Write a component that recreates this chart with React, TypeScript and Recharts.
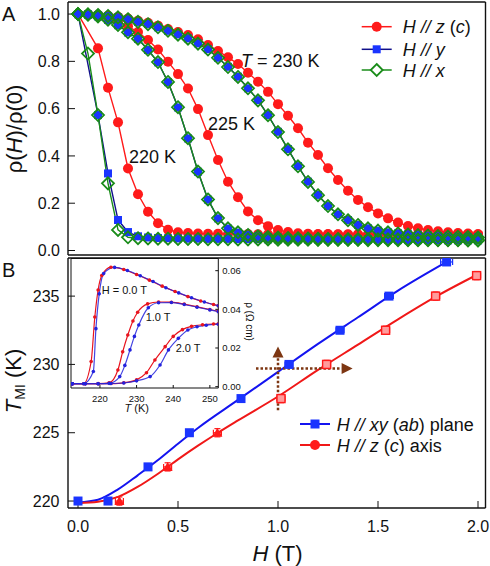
import React from 'react';
import { LineChart, Line, XAxis, YAxis, ComposedChart, Scatter, ErrorBar, ReferenceLine, ReferenceDot } from 'recharts';

const FONT = '"Liberation Sans", Arial, Helvetica, sans-serif';

// ---------- Panel A : rho(H)/rho(0) vs H ----------
const fieldA = [0, 0.05, 0.1, 0.15, 0.2, 0.25, 0.3, 0.35, 0.4, 0.45, 0.5, 0.55, 0.6, 0.65, 0.7, 0.75, 0.8, 0.85, 0.9, 0.95, 1.0, 1.05, 1.1, 1.15, 1.2, 1.25, 1.3, 1.35, 1.4, 1.45, 1.5, 1.55, 1.6, 1.65, 1.7, 1.75, 1.8, 1.85, 1.9, 1.95, 2.0];

const z220 = [1.0, null, 0.855, 0.688, 0.542, 0.347, 0.238, 0.164, 0.115, 0.088, 0.077, 0.074, 0.072, 0.071, 0.071, 0.070, 0.070, 0.070, 0.069, 0.069, 0.069, 0.069, 0.068, 0.068, 0.068, 0.068, 0.068, 0.067, 0.067, 0.067, 0.067, 0.067, 0.067, 0.066, 0.066, 0.066, 0.066, 0.066, 0.066, 0.066, 0.066];
const y220 = [1.0, null, 0.573, 0.326, 0.129, 0.078, 0.060, 0.055, 0.053, 0.052, 0.051, 0.050, 0.050, 0.049, 0.049, 0.049, 0.048, 0.048, 0.048, 0.047, 0.047, 0.047, 0.047, 0.046, 0.046, 0.046, 0.046, 0.045, 0.045, 0.045, 0.045, 0.045, 0.044, 0.044, 0.044, 0.044, 0.044, 0.043, 0.043, 0.043, 0.043];
const x220 = [1.0, 0.833, 0.573, 0.284, 0.087, 0.056, 0.052, 0.051, 0.050, 0.050, 0.049, 0.049, 0.049, 0.048, 0.048, 0.048, 0.047, 0.047, 0.047, 0.047, 0.046, 0.046, 0.046, 0.046, 0.045, 0.045, 0.045, 0.045, 0.045, 0.044, 0.044, 0.044, 0.044, 0.044, 0.043, 0.043, 0.043, 0.043, 0.043, 0.042, 0.042];

const z225 = [1.0, 0.998, 0.992, 0.982, 0.968, 0.948, 0.924, 0.890, 0.850, 0.798, 0.746, 0.685, 0.598, 0.488, 0.383, 0.291, 0.225, 0.165, 0.128, 0.103, 0.087, 0.078, 0.073, 0.071, 0.070, 0.070, 0.069, 0.069, 0.069, 0.068, 0.068, 0.068, 0.068, 0.067, 0.067, 0.067, 0.067, 0.067, 0.066, 0.066, 0.066];
const y225 = [1.0, 0.997, 0.990, 0.975, 0.953, 0.922, 0.895, 0.848, 0.796, 0.712, 0.605, 0.474, 0.333, 0.215, 0.136, 0.093, 0.076, 0.066, 0.060, 0.057, 0.055, 0.053, 0.052, 0.051, 0.050, 0.050, 0.049, 0.049, 0.048, 0.048, 0.048, 0.047, 0.047, 0.047, 0.046, 0.046, 0.046, 0.046, 0.045, 0.045, 0.045];
const x225 = [1.0, 0.997, 0.990, 0.976, 0.954, 0.923, 0.896, 0.849, 0.797, 0.713, 0.606, 0.475, 0.334, 0.216, 0.137, 0.094, 0.077, 0.066, 0.060, 0.057, 0.055, 0.053, 0.052, 0.051, 0.050, 0.049, 0.049, 0.048, 0.048, 0.048, 0.047, 0.047, 0.047, 0.046, 0.046, 0.046, 0.045, 0.045, 0.045, 0.045, 0.044];

const z230 = [1.0, 0.999, 0.997, 0.993, 0.988, 0.981, 0.972, 0.963, 0.951, 0.937, 0.924, 0.911, 0.893, 0.869, 0.844, 0.817, 0.789, 0.752, 0.714, 0.671, 0.619, 0.570, 0.517, 0.456, 0.404, 0.348, 0.298, 0.253, 0.214, 0.183, 0.157, 0.136, 0.118, 0.104, 0.094, 0.087, 0.081, 0.077, 0.074, 0.072, 0.070];
const y230 = [1.0, 0.999, 0.996, 0.992, 0.986, 0.978, 0.967, 0.958, 0.944, 0.929, 0.914, 0.897, 0.876, 0.851, 0.815, 0.777, 0.735, 0.686, 0.636, 0.573, 0.502, 0.429, 0.357, 0.291, 0.235, 0.188, 0.153, 0.129, 0.108, 0.094, 0.084, 0.077, 0.073, 0.069, 0.066, 0.063, 0.061, 0.059, 0.058, 0.057, 0.056];
const x230 = [1.0, 0.999, 0.996, 0.992, 0.986, 0.978, 0.967, 0.957, 0.944, 0.929, 0.913, 0.896, 0.875, 0.850, 0.815, 0.776, 0.734, 0.686, 0.635, 0.572, 0.501, 0.428, 0.356, 0.290, 0.234, 0.188, 0.153, 0.128, 0.108, 0.094, 0.084, 0.077, 0.072, 0.068, 0.065, 0.063, 0.061, 0.059, 0.058, 0.057, 0.055];

const tempLabelsA = ['220 K', '225 K', '230 K'];
const legendA = ['z', 'y', 'x'];

const ticksH = [0, 0.5, 1.0, 1.5, 2.0];
const ticksHminor = [0.25, 0.75, 1.25, 1.75];
const ticksRho = [0, 0.2, 0.4, 0.6, 0.8, 1.0];
const ticksRhoMinor = [0.1, 0.3, 0.5, 0.7, 0.9];

// ---------- Panel B : T_MI vs H ----------
const measXYh = [0, 0.15, 0.35, 0.557, 0.815, 1.055, 1.31, 1.555, 1.843];
const measXYt = [220, 220, 222.5, 225, 227.5, 230, 232.5, 235, 237.5];
const measXYeh = [0.01, 0.01, 0.012, 0.015, 0.015, 0.02, 0.02, 0.022, 0.03];
const measXYet = [0.2, 0.2, 0.2, 0.2, 0.2, 0.2, 0.2, 0.2, 0.2];

const measZh = [0.207, 0.448, 0.697, 1.015, 1.243, 1.538, 1.788, 1.993];
const measZt = [220, 222.5, 225, 227.5, 230, 232.5, 235, 236.5];
const measZeh = [0.02, 0.02, 0.02, 0.02, 0.02, 0.02, 0.02, 0.02];
const measZet = [0.3, 0.3, 0.3, 0.3, 0.3, 0.3, 0.3, 0.3];

const fitXYh = [0, 0.1, 0.2, 0.3, 0.4, 0.5, 0.6, 0.8, 1.0, 1.2, 1.4, 1.6, 1.843];
const fitXYt = [219.9, 220.1, 220.85, 221.9, 223.0, 224.2, 225.35, 227.4, 229.45, 231.5, 233.45, 235.4, 237.5];
const fitZh = [0, 0.1, 0.2, 0.3, 0.4, 0.5, 0.6, 0.7, 0.8, 1.0, 1.2, 1.4, 1.6, 1.8, 2.0];
const fitZt = [219.85, 219.95, 220.3, 221.05, 222.0, 223.05, 224.05, 225.0, 225.9, 227.65, 229.6, 231.45, 233.3, 235.05, 236.6];

const ticksT = [220, 225, 230, 235];
const ticksTminor = [221, 222, 223, 224, 226, 227, 228, 229, 231, 232, 233, 234, 236, 237];

// dotted arrows (H, T in data units)
const arrowUp = { h: 1.0, t0: 226.65, t1: 230.5 };
const arrowRight = { t: 229.7, h0: 0.89, h1: 1.318 };

// ---------- Inset : rho (Ohm cm) vs T ----------
const t0z = [212.5, 215.5, 217.6, 218.6, 219.5, 220.5, 223, 226.5, 230, 233.5, 237, 240.5, 244, 247.5, 251, 252.3];
const r0z = [0.0015, 0.0015, 0.013, 0.036, 0.05, 0.0575, 0.0618, 0.0606, 0.058, 0.0551, 0.052, 0.0492, 0.0466, 0.0443, 0.0425, 0.0419];
const t0xy = [212.5, 215.5, 218.2, 218.9, 219.8, 221, 224, 227.5, 231, 234.5, 238, 241.5, 245, 248.5, 252.3];
const r0xy = [0.0015, 0.0015, 0.0078, 0.03, 0.048, 0.0585, 0.0617, 0.0601, 0.0574, 0.0544, 0.0512, 0.0485, 0.046, 0.0438, 0.0418];
const t1z = [212.5, 216, 219.5, 222.5, 224.9, 226.2, 227.6, 229, 230.3, 233, 236, 239.5, 243, 246.5, 250, 252.3];
const r1z = [0.0015, 0.0015, 0.0016, 0.002, 0.0086, 0.018, 0.0267, 0.034, 0.0385, 0.0428, 0.0438, 0.0437, 0.0427, 0.0413, 0.0399, 0.039];
const t1xy = [212.5, 216, 219.5, 222.5, 225.4, 226.8, 228.2, 229.4, 230.6, 233.2, 236, 239.5, 243, 246.5, 250, 252.3];
const r1xy = [0.0015, 0.0015, 0.0015, 0.0017, 0.0052, 0.011, 0.019, 0.026, 0.0319, 0.0408, 0.0434, 0.0435, 0.0425, 0.0411, 0.0397, 0.0388];
const t2z = [212.5, 216, 219.5, 223, 226.5, 230, 232.7, 235, 237.8, 240, 242.5, 245, 248, 251, 252.3];
const r2z = [0.0015, 0.0015, 0.0015, 0.0016, 0.002, 0.0035, 0.0072, 0.0138, 0.0207, 0.026, 0.0295, 0.0312, 0.032, 0.0324, 0.0325];
const t2xy = [212.5, 216, 219.5, 223, 226.5, 230, 233.7, 236.4, 238.7, 241.4, 244, 246.5, 249, 252.3];
const r2xy = [0.0015, 0.0015, 0.0015, 0.0016, 0.0019, 0.003, 0.0052, 0.0112, 0.019, 0.025, 0.0293, 0.031, 0.0318, 0.0323];

const insetLabels = ['H = 0.0 T', '1.0 T', '2.0 T'];
const ticksInsetT = [220, 230, 240, 250];
const ticksInsetTminor = [215, 225, 235, 245];
const ticksInsetRho = [0, 0.02, 0.04, 0.06];
const ticksInsetRhoMinor = [0.01, 0.03, 0.05];
const ticksInsetRhoAll = [0, 0.01, 0.02, 0.03, 0.04, 0.05, 0.06];

// ---------- build tables ----------
const rowsA = fieldA.map((h, i) => ({
  h,
  z220: z220[i], y220: y220[i], x220: x220[i],
  z225: z225[i], y225: y225[i], x225: x225[i],
  z230: z230[i], y230: y230[i], x230: x230[i],
}));
const pts = (hs: number[], ts: number[]) => hs.map((h, i) => ({ h, t: ts[i] }));
const measXY = measXYh.map((h, i) => ({ h, t: measXYt[i], eh: measXYeh[i], et: measXYet[i] }));
const measZ = measZh.map((h, i) => ({ h, t: measZt[i], eh: measZeh[i], et: measZet[i] }));
const fitXY = pts(fitXYh, fitXYt);
const fitZ = pts(fitZh, fitZt);
const ins = (ts: number[], rs: number[]) => ts.map((T, i) => ({ T, r: rs[i] }));

// ---------- colors ----------
const RED = '#ff1a1a';
const BLUE_MARK = '#1a34ff';
const NAVY = '#10108a';
const GREEN = '#1a8c1a';
const BROWN = '#7d3612';
const INK = '#111';

const ok = (p: any) => p && Number.isFinite(p.cx) && Number.isFinite(p.cy);
const redCircle = (p: any) => ok(p) ? <circle key={`rc${p.index}`} cx={p.cx} cy={p.cy} r={5} fill={RED} /> : <g key={`rc${p.index}`} />;
const blueSquare = (p: any) => ok(p) ? <rect key={`bs${p.index}`} x={p.cx - 4} y={p.cy - 4} width={8} height={8} fill={BLUE_MARK} /> : <g key={`bs${p.index}`} />;
const greenDiamond = (p: any) => ok(p) ? (
  <polygon key={`gd${p.index}`} points={`${p.cx},${p.cy - 6} ${p.cx + 6},${p.cy} ${p.cx},${p.cy + 6} ${p.cx - 6},${p.cy}`} fill="none" stroke={GREEN} strokeWidth={1.8} />
) : <g key={`gd${p.index}`} />;

const tickFont = { fontSize: 16, fill: INK, fontFamily: FONT };
const common = { type: 'number' as const, allowDataOverflow: true, interval: 0 as const, stroke: INK };

function PanelA() {
  const dom: [number, number] = [-0.05, 2.0375];
  const ydom: [number, number] = [-0.019, 1.051];
  return (
    <LineChart width={490} height={260} data={rowsA} margin={{ top: 0, right: 2.5, bottom: 3, left: 66 }}>
      <XAxis {...common} dataKey="h" domain={dom} ticks={ticksH} tickSize={-7} tick={false} height={1} axisLine={{ strokeWidth: 1.4 }} />
      <XAxis {...common} xAxisId="bm" domain={dom} ticks={ticksHminor} tickSize={-5} tick={false} height={1} axisLine={false} />
      <XAxis {...common} xAxisId="t" orientation="top" domain={dom} ticks={ticksH} tickSize={-7} tick={false} height={1} axisLine={{ strokeWidth: 1.4 }} />
      <XAxis {...common} xAxisId="tm" orientation="top" domain={dom} ticks={ticksHminor} tickSize={-5} tick={false} height={1} axisLine={false} />
      <YAxis {...common} domain={ydom} ticks={ticksRho} tickSize={-7} tickMargin={15} width={1} tick={tickFont} tickFormatter={(v: number) => v.toFixed(1)} axisLine={{ strokeWidth: 1.4 }} />
      <YAxis {...common} yAxisId="lm" domain={ydom} ticks={ticksRhoMinor} tickSize={-5} tick={false} width={1} axisLine={false} />
      <YAxis {...common} yAxisId="r" orientation="right" domain={ydom} ticks={ticksRho} tickSize={-7} tick={false} width={1} axisLine={{ strokeWidth: 1.4 }} />
      <YAxis {...common} yAxisId="rm" orientation="right" domain={ydom} ticks={ticksRhoMinor} tickSize={-5} tick={false} width={1} axisLine={false} />

      <Line dataKey="z230" stroke={RED} strokeWidth={1.4} dot={redCircle} activeDot={false} connectNulls isAnimationActive={false} />
      <Line dataKey="z225" stroke={RED} strokeWidth={1.4} dot={redCircle} activeDot={false} connectNulls isAnimationActive={false} />
      <Line dataKey="z220" stroke={RED} strokeWidth={1.4} dot={redCircle} activeDot={false} connectNulls isAnimationActive={false} />
      <Line dataKey="y230" stroke={NAVY} strokeWidth={1.4} dot={blueSquare} activeDot={false} connectNulls isAnimationActive={false} />
      <Line dataKey="y225" stroke={NAVY} strokeWidth={1.4} dot={blueSquare} activeDot={false} connectNulls isAnimationActive={false} />
      <Line dataKey="y220" stroke={NAVY} strokeWidth={1.4} dot={blueSquare} activeDot={false} connectNulls isAnimationActive={false} />
      <Line dataKey="x230" stroke={GREEN} strokeWidth={1.4} dot={greenDiamond} activeDot={false} connectNulls isAnimationActive={false} />
      <Line dataKey="x225" stroke={GREEN} strokeWidth={1.4} dot={greenDiamond} activeDot={false} connectNulls isAnimationActive={false} />
      <Line dataKey="x220" stroke={GREEN} strokeWidth={1.4} dot={greenDiamond} activeDot={false} connectNulls isAnimationActive={false} />
    </LineChart>
  );
}

const blueMark = (p: any) => <rect x={p.cx - 4.5} y={p.cy - 4.5} width={9} height={9} fill={BLUE_MARK} />;
const redMark = (p: any) => {
  const h = p.payload ? p.payload.h : 0;
  if (h < 0.8) {
    return <polygon points={`${p.cx},${p.cy - 5} ${p.cx + 5},${p.cy + 4} ${p.cx - 5},${p.cy + 4}`} fill={RED} />;
  }
  return <rect x={p.cx - 4} y={p.cy - 4} width={8} height={8} fill="#ff9c9c" stroke={RED} strokeWidth={1.4} />;
};
const arrowHeadUp = (p: any) => <polygon points={`${p.cx - 5.5},${p.cy} ${p.cx + 5.5},${p.cy} ${p.cx},${p.cy - 11}`} fill={BROWN} />;
const arrowHeadRight = (p: any) => <polygon points={`${p.cx},${p.cy - 5.5} ${p.cx},${p.cy + 5.5} ${p.cx + 11},${p.cy}`} fill={BROWN} />;

function PanelB() {
  const dom: [number, number] = [-0.05, 2.0375];
  const ydom: [number, number] = [219.49, 237.79];
  return (
    <ComposedChart width={490} height={566} margin={{ top: 257, right: 2.5, bottom: 56, left: 66 }}>
      <XAxis {...common} dataKey="h" domain={dom} ticks={ticksH} tickSize={-7} tickMargin={20} height={1} tick={tickFont} tickFormatter={(v: number) => v.toFixed(1)} axisLine={{ strokeWidth: 1.4 }} />
      <XAxis {...common} xAxisId="bm" domain={dom} ticks={ticksHminor} tickSize={-5} tick={false} height={1} axisLine={false} />
      <XAxis {...common} xAxisId="t" orientation="top" domain={dom} ticks={ticksH} tickSize={0} tickLine={false} tick={false} height={1} axisLine={{ strokeWidth: 1.4 }} />
      <YAxis {...common} dataKey="t" domain={ydom} ticks={ticksT} tickSize={-7} tickMargin={15.5} width={1} tick={tickFont} axisLine={{ strokeWidth: 1.4 }} />
      <YAxis {...common} yAxisId="lm" domain={ydom} ticks={ticksTminor} tickSize={-5} tick={false} width={1} axisLine={false} />
      <YAxis {...common} yAxisId="r" orientation="right" domain={ydom} ticks={ticksT} tickSize={-7} tick={false} width={1} axisLine={{ strokeWidth: 1.4 }} />
      <YAxis {...common} yAxisId="rm" orientation="right" domain={ydom} ticks={ticksTminor} tickSize={-5} tick={false} width={1} axisLine={false} />

      <Line data={fitXY} dataKey="t" type="monotone" stroke="#1414f0" strokeWidth={2} dot={false} activeDot={false} isAnimationActive={false} />
      <Line data={fitZ} dataKey="t" type="monotone" stroke="#f01818" strokeWidth={2} dot={false} activeDot={false} isAnimationActive={false} />

      <ReferenceLine segment={[{ x: arrowUp.h, y: arrowUp.t0 }, { x: arrowUp.h, y: arrowUp.t1 }]} stroke={BROWN} strokeWidth={2.5} strokeDasharray="2.5 2" />
      <ReferenceLine segment={[{ x: arrowRight.h0, y: arrowRight.t }, { x: arrowRight.h1, y: arrowRight.t }]} stroke={BROWN} strokeWidth={2.5} strokeDasharray="2.5 2" />
      <ReferenceDot x={arrowUp.h} y={arrowUp.t1} r={5} shape={arrowHeadUp} />
      <ReferenceDot x={arrowRight.h1} y={arrowRight.t} r={5} shape={arrowHeadRight} />

      <Scatter data={measXY} dataKey="t" shape={blueMark} isAnimationActive={false}>
        <ErrorBar dataKey="eh" direction="x" width={3} stroke="#1a34ff" strokeWidth={1.2} />
        <ErrorBar dataKey="et" direction="y" width={3} stroke="#1a34ff" strokeWidth={1.2} />
      </Scatter>
      <Scatter data={measZ} dataKey="t" shape={redMark} isAnimationActive={false}>
        <ErrorBar dataKey="eh" direction="x" width={3} stroke={RED} strokeWidth={1.2} />
        <ErrorBar dataKey="et" direction="y" width={3} stroke={RED} strokeWidth={1.2} />
      </Scatter>
    </ComposedChart>
  );
}

const smallDot = (color: string) => (p: any) => ok(p) ? <circle key={`sd${p.index}`} cx={p.cx} cy={p.cy} r={1.8} fill={color} /> : <g key={`sd${p.index}`} />;
const IRED = '#e8141e';
const IBLUE = '#2222dd';

function Inset() {
  const dom: [number, number] = [212.1, 252.3];
  const ydom: [number, number] = [-0.0007, 0.0663];
  const tf = { fontSize: 9.5, fill: INK, fontFamily: FONT };
  const lineProps = { type: 'monotone' as const, strokeWidth: 1.2, activeDot: false as const, isAnimationActive: false, dataKey: 'r' };
  return (
    <LineChart width={490} height={566} margin={{ top: 257.5, right: 269.7, bottom: 176, left: 70 }}>
      <XAxis {...common} dataKey="T" domain={dom} ticks={ticksInsetT} tickSize={-3} tickMargin={10} height={1} tick={tf} axisLine={{ strokeWidth: 1 }} />
      <XAxis {...common} xAxisId="m" domain={dom} ticks={ticksInsetTminor} tickSize={-3} tick={false} height={1} axisLine={false} />
      <XAxis {...common} xAxisId="t" orientation="top" domain={dom} ticks={[...ticksInsetTminor, ...ticksInsetT]} tickSize={-2} tick={false} height={1} axisLine={{ strokeWidth: 1 }} />
      <YAxis {...common} domain={ydom} ticks={ticksInsetRhoAll} tickSize={-3} tick={false} width={1} axisLine={{ strokeWidth: 1 }} />
      <YAxis {...common} yAxisId="r" orientation="right" domain={ydom} ticks={ticksInsetRho} tickSize={-3} tickMargin={7} width={1} tick={tf} tickFormatter={(v: number) => v.toFixed(2)} axisLine={{ strokeWidth: 1 }} />
      <YAxis {...common} yAxisId="rm" orientation="right" domain={ydom} ticks={ticksInsetRhoMinor} tickSize={-3} tick={false} width={1} axisLine={false} />

      <Line {...lineProps} data={ins(t2z, r2z)} stroke={IRED} dot={smallDot(IRED)} />
      <Line {...lineProps} data={ins(t1z, r1z)} stroke={IRED} dot={smallDot(IRED)} />
      <Line {...lineProps} data={ins(t0z, r0z)} stroke={IRED} dot={smallDot(IRED)} />
      <Line {...lineProps} data={ins(t2xy, r2xy)} stroke={IBLUE} strokeOpacity={0.85} dot={smallDot(IBLUE)} />
      <Line {...lineProps} data={ins(t1xy, r1xy)} stroke={IBLUE} strokeOpacity={0.85} dot={smallDot(IBLUE)} />
      <Line {...lineProps} data={ins(t0xy, r0xy)} stroke={IBLUE} strokeOpacity={0.85} dot={smallDot(IBLUE)} />
    </LineChart>
  );
}

function Overlay() {
  const it = { fontStyle: 'italic' as const };
  return (
    <svg width={490} height={566} style={{ position: 'absolute', left: 0, top: 0, pointerEvents: 'none' }} fontFamily={FONT} fill={INK}>
      <text x={2} y={21} fontSize={20}>A</text>
      <text x={2} y={276.5} fontSize={20}>B</text>

      {/* panel A axis title */}
      <text transform="translate(22,129) rotate(-90)" textAnchor="middle" fontSize={22}>ρ(<tspan {...it}>H</tspan>)/ρ(0)</text>

      {/* temperature labels */}
      <text x={129} y={162.5} fontSize={18}>{tempLabelsA[0]}</text>
      <text x={208} y={129.5} fontSize={18}>{tempLabelsA[1]}</text>
      <text x={241} y={66.5} fontSize={18}><tspan {...it}>T</tspan> = {tempLabelsA[2]}</text>

      {/* legend A */}
      <g>
        <line x1={361.7} x2={391.7} y1={26.7} y2={26.7} stroke={RED} strokeWidth={1.5} />
        <circle cx={376.7} cy={26.7} r={5} fill={RED} />
        <line x1={361.7} x2={391.7} y1={49.3} y2={49.3} stroke={NAVY} strokeWidth={1.5} />
        <rect x={372.7} y={45.3} width={8} height={8} fill={BLUE_MARK} />
        <line x1={361.7} x2={391.7} y1={70} y2={70} stroke={GREEN} strokeWidth={1.5} />
        <polygon points="376.7,64 382.7,70 376.7,76 370.7,70" fill="#fff" stroke={GREEN} strokeWidth={1.8} />
        <text x={402.7} y={33.2} fontSize={18}><tspan {...it}>H // {legendA[0]}</tspan> (<tspan {...it}>c</tspan>)</text>
        <text x={402.7} y={55.8} fontSize={18}><tspan {...it}>H // {legendA[1]}</tspan></text>
        <text x={402.7} y={76.5} fontSize={18}><tspan {...it}>H // {legendA[2]}</tspan></text>
      </g>

      {/* panel B axis titles */}
      <text transform="translate(21,381) rotate(-90)" textAnchor="middle" fontSize={22}><tspan {...it}>T</tspan><tspan fontSize={14} dy={4}>MI</tspan><tspan dy={-4}> (K)</tspan></text>
      <text x={277.5} y={561} textAnchor="middle" fontSize={22}><tspan {...it}>H</tspan> (T)</text>

      {/* legend B */}
      <g>
        <line x1={300} x2={330} y1={424} y2={424} stroke="#1414f0" strokeWidth={2} />
        <rect x={310.5} y={419.5} width={9} height={9} fill={BLUE_MARK} />
        <line x1={300} x2={330} y1={445} y2={445} stroke="#f01818" strokeWidth={2} />
        <circle cx={315} cy={445} r={5} fill={RED} />
        <text x={336.7} y={430.5} fontSize={18}><tspan {...it}>H // xy</tspan> (<tspan {...it}>ab</tspan>) plane</text>
        <text x={336.7} y={451.5} fontSize={18}><tspan {...it}>H // z</tspan> (<tspan {...it}>c</tspan>) axis</text>
      </g>

      {/* inset texts */}
      <text x={101.7} y={294} fontSize={11}>{insetLabels[0]}</text>
      <text x={145.7} y={320.7} fontSize={11}>{insetLabels[1]}</text>
      <text x={175.7} y={351.7} fontSize={11}>{insetLabels[2]}</text>
      <text x={136.7} y={412.3} textAnchor="middle" fontSize={11}><tspan {...it}>T</tspan> (K)</text>
      <text transform="translate(245.5,321.5) rotate(90)" textAnchor="middle" fontSize={10}>ρ (Ω cm)</text>
    </svg>
  );
}

export default function App() {
  return (
    <div style={{ position: 'absolute', left: 0, top: 0, width: 490, height: 566, background: '#fff', fontFamily: FONT }}>
      <div style={{ position: 'absolute', left: 0, top: 0 }}><PanelB /></div>
      <div style={{ position: 'absolute', left: 0, top: 0 }}><PanelA /></div>
      <div style={{ position: 'absolute', left: 0, top: 0 }}><Inset /></div>
      <Overlay />
    </div>
  );
}
